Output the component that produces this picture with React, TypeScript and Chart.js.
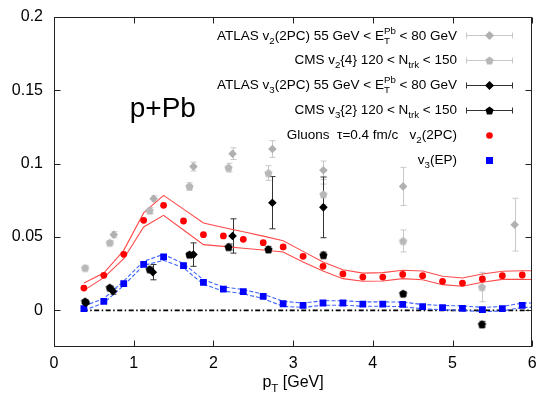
import React, { useEffect, useRef } from 'react';
import { Chart, registerables } from 'chart.js';
Chart.register(...registerables);

// ---------------- data ----------------
const PT = [0.375, 0.625, 0.875, 1.125, 1.375, 1.625, 1.875, 2.125, 2.375, 2.625, 2.875, 3.125,
  3.375, 3.625, 3.875, 4.125, 4.375, 4.625, 4.875, 5.125, 5.375, 5.625, 5.875];
const GLUON_V2 = [0.0152, 0.0239, 0.0382, 0.0614, 0.0716, 0.0609, 0.0516, 0.0507, 0.0484, 0.0461, 0.0432, 0.0368,
  0.030, 0.0248, 0.0227, 0.0227, 0.0245, 0.0236, 0.0198, 0.0186, 0.0214, 0.0236, 0.0241];
const GLUON_V3 = [0.0011, 0.0061, 0.0182, 0.0314, 0.0364, 0.0305, 0.0191, 0.0145, 0.0127, 0.0095, 0.0045, 0.0034,
  0.005, 0.005, 0.0043, 0.0043, 0.004, 0.0025, 0.0018, 0.0014, 0.0005, 0.0011, 0.0034];

const BAND_PT = [0.375, 0.625, 0.875, 1.125, 1.375, 1.625, 1.875, 2.125, 2.375, 2.625, 2.875, 3.125,
  3.375, 3.625, 3.875, 4.125, 4.375, 4.625, 4.875, 5.125, 5.375, 5.625, 5.875, 6.0];
const V2_UPPER = [0.0186, 0.0254, 0.0409, 0.0664, 0.0784, 0.069, 0.0595, 0.0565, 0.0536, 0.0506, 0.0475, 0.0402,
  0.033, 0.0277, 0.0254, 0.0257, 0.0273, 0.0268, 0.0232, 0.022, 0.0248, 0.0266, 0.027, 0.027];
const V2_LOWER = [0.0136, 0.0223, 0.0352, 0.0568, 0.0648, 0.0548, 0.0448, 0.0436, 0.0423, 0.0411, 0.0398, 0.033,
  0.0268, 0.0216, 0.0198, 0.020, 0.0216, 0.0209, 0.0175, 0.0164, 0.0191, 0.0211, 0.0211, 0.021];
const V3_UPPER = [0.003, 0.008, 0.020, 0.0334, 0.0382, 0.0318, 0.0209, 0.0159, 0.0142, 0.011, 0.0061, 0.005,
  0.0065, 0.0065, 0.0058, 0.0058, 0.0056, 0.004, 0.0033, 0.003, 0.002, 0.0026, 0.005, 0.005];
const V3_LOWER = [0.000, 0.005, 0.017, 0.0307, 0.0341, 0.029, 0.0177, 0.0132, 0.0113, 0.008, 0.0027, 0.002,
  0.0035, 0.0035, 0.0028, 0.0028, 0.0025, 0.001, 0.0004, 0.000, -0.001, -0.0004, 0.002, 0.002];

const ATLAS_V2_PT = [0.75, 1.25, 1.75, 2.24, 2.74, 3.38, 4.38, 5.78];
const ATLAS_V2 = [0.0516, 0.0761, 0.098, 0.1068, 0.110, 0.0955, 0.0845, 0.0584];
const ATLAS_V2_ERR = [0.002, 0.002, 0.003, 0.004, 0.0057, 0.0063, 0.013, 0.018];

const CMS_V2_PT = [0.39, 0.70, 1.20, 1.70, 2.19, 2.69, 3.38, 4.38, 5.37];
const CMS_V2 = [0.0289, 0.0461, 0.068, 0.0845, 0.0973, 0.0936, 0.0791, 0.0473, 0.0159];
const CMS_V2_ERR = [0.0015, 0.0015, 0.002, 0.0025, 0.003, 0.005, 0.007, 0.0075, 0.01];

const ATLAS_V3_PT = [0.40, 0.74, 1.24, 1.75, 2.24, 2.74, 3.38];
const ATLAS_V3 = [0.005, 0.013, 0.026, 0.038, 0.0507, 0.0734, 0.0702];
const ATLAS_V3_ERR = [0.001, 0.002, 0.0052, 0.008, 0.0117, 0.0178, 0.0207];

const CMS_V3_PT = [0.39, 0.70, 1.20, 1.70, 2.19, 2.69, 3.38, 4.38, 5.37];
const CMS_V3 = [0.0061, 0.0155, 0.028, 0.038, 0.0432, 0.0416, 0.0377, 0.0114, -0.0095];
const CMS_V3_ERR = [0.001, 0.001, 0.0015, 0.0015, 0.002, 0.002, 0.002, 0.0015, 0.002];

const ZERO_PT = [0.36, 6.0];
const ZERO_V = [0, 0];

const X_TICKS = [0, 1, 2, 3, 4, 5, 6];
const Y_TICKS = [0, 0.05, 0.1, 0.15, 0.2];
const Y_TICK_LABELS = ['0', '0.05', '0.1', '0.15', '0.2'];

const SYSTEM_LABEL = 'p+Pb';
type Seg = { t?: string; s?: 'sub' | 'sup'; st?: [string, string] };
const LEGEND_LABELS: Seg[][] = [
  [{ t: 'ATLAS v' }, { t: '2', s: 'sub' }, { t: '(2PC) 55 GeV < E' }, { st: ['Pb', 'T'] }, { t: ' < 80 GeV' }],
  [{ t: 'CMS v' }, { t: '2', s: 'sub' }, { t: '{4} 120 < N' }, { t: 'trk', s: 'sub' }, { t: ' < 150' }],
  [{ t: 'ATLAS v' }, { t: '3', s: 'sub' }, { t: '(2PC) 55 GeV < E' }, { st: ['Pb', 'T'] }, { t: ' < 80 GeV' }],
  [{ t: 'CMS v' }, { t: '3', s: 'sub' }, { t: '{2} 120 < N' }, { t: 'trk', s: 'sub' }, { t: ' < 150' }],
  [{ t: 'Gluons  \u03c4=0.4 fm/c   v' }, { t: '2', s: 'sub' }, { t: '(2PC)' }],
  [{ t: 'v' }, { t: '3', s: 'sub' }, { t: '(EP)' }],
];
const X_TITLE: Seg[] = [{ t: 'p' }, { t: 'T', s: 'sub' }, { t: ' [GeV]' }];

// ---------------- helpers ----------------
const FONT_FAMILY = '"Liberation Sans", Arial, Helvetica, sans-serif';
const font = (size: number) => `${size}px ${FONT_FAMILY}`;

function segWidth(ctx: CanvasRenderingContext2D, seg: Seg, size: number) {
  const small = size * 0.72;
  if (seg.st) {
    ctx.font = font(small);
    return Math.max(ctx.measureText(seg.st[0]).width, ctx.measureText(seg.st[1]).width);
  }
  ctx.font = font(seg.s ? small : size);
  return ctx.measureText(seg.t || '').width;
}

function drawRich(ctx: CanvasRenderingContext2D, segs: Seg[], x: number, y: number, size: number, align: 'right' | 'center' | 'left') {
  const widths = segs.map((s) => segWidth(ctx, s, size));
  const total = widths.reduce((a, b) => a + b, 0);
  let cx = align === 'right' ? x - total : align === 'center' ? x - total / 2 : x;
  const small = size * 0.72;
  ctx.save();
  ctx.textAlign = 'left';
  ctx.textBaseline = 'alphabetic';
  ctx.fillStyle = '#000';
  segs.forEach((s, i) => {
    if (s.st) {
      ctx.font = font(small);
      ctx.fillText(s.st[0], cx, y - size * 0.42);
      ctx.fillText(s.st[1], cx, y + size * 0.3);
    } else if (s.s === 'sub') {
      ctx.font = font(small);
      ctx.fillText(s.t || '', cx, y + size * 0.3);
    } else if (s.s === 'sup') {
      ctx.font = font(small);
      ctx.fillText(s.t || '', cx, y - size * 0.42);
    } else {
      ctx.font = font(size);
      ctx.fillText(s.t || '', cx, y);
    }
    cx += widths[i];
  });
  ctx.restore();
}

function makePentagon(color: string, r: number) {
  const c = document.createElement('canvas');
  const s = Math.ceil(r * 2 + 2);
  c.width = s;
  c.height = s;
  const g = c.getContext('2d')!;
  g.fillStyle = color;
  g.beginPath();
  for (let i = 0; i < 5; i++) {
    const a = -Math.PI / 2 + (i * 2 * Math.PI) / 5;
    g.lineTo(s / 2 + r * Math.cos(a), s / 2 + r * Math.sin(a) + 0.4);
  }
  g.closePath();
  g.fill();
  return c;
}

const pts = (xs: number[], ys: number[]) => xs.map((x, i) => ({ x, y: ys[i] }));

const GRAY_D = '#b0b0b0';
const GRAY_P = '#b8b8b8';
const GRAY_BAR = '#c8c8c8';

// ---------------- component ----------------
export default function App() {
  const ref = useRef<HTMLCanvasElement>(null);

  useEffect(() => {
    if (!ref.current) return;
    const pentGray = makePentagon(GRAY_P, 4.3);
    const pentBlack = makePentagon('#000', 4.3);

    const errorBars = {
      id: 'errorBars',
      beforeDatasetsDraw(chart: any) {
        const ctx = chart.ctx;
        const ys = chart.scales.y;
        chart.data.datasets.forEach((ds: any, i: number) => {
          if (!ds.errors) return;
          const meta = chart.getDatasetMeta(i);
          ctx.save();
          ctx.strokeStyle = ds.errorColor;
          ctx.lineWidth = 1;
          meta.data.forEach((el: any, j: number) => {
            const v = ds.data[j].y;
            const e = ds.errors[j];
            const x = Math.round(el.x) + 0.5;
            const y1 = ys.getPixelForValue(v + e);
            const y2 = ys.getPixelForValue(v - e);
            ctx.beginPath();
            ctx.moveTo(x, y1);
            ctx.lineTo(x, y2);
            ctx.moveTo(x - 3, y1);
            ctx.lineTo(x + 3, y1);
            ctx.moveTo(x - 3, y2);
            ctx.lineTo(x + 3, y2);
            ctx.stroke();
          });
          ctx.restore();
        });
      },
    };

    const frame = {
      id: 'frame',
      afterDraw(chart: any) {
        const ctx = chart.ctx;
        const { left, right, top, bottom } = chart.chartArea;
        const xs = chart.scales.x;
        const ys = chart.scales.y;
        ctx.save();
        ctx.strokeStyle = '#222';
        ctx.lineWidth = 1;
        const L = Math.round(left) + 0.5, R = Math.round(right) - 0.5;
        const T = Math.round(top) + 0.5, B = Math.round(bottom) - 0.5;
        ctx.strokeRect(L, T, R - L, B - T);
        ctx.beginPath();
        X_TICKS.forEach((v) => {
          const x = Math.round(xs.getPixelForValue(v)) + 0.5;
          ctx.moveTo(x, B); ctx.lineTo(x, B - 6);
          ctx.moveTo(x, T); ctx.lineTo(x, T + 6);
        });
        Y_TICKS.forEach((v) => {
          const y = Math.round(ys.getPixelForValue(v)) + 0.5;
          ctx.moveTo(L, y); ctx.lineTo(L + 6, y);
          ctx.moveTo(R, y); ctx.lineTo(R - 6, y);
        });
        ctx.stroke();
        ctx.restore();

        // system label
        ctx.save();
        ctx.font = font(28);
        ctx.fillStyle = '#000';
        ctx.textAlign = 'left';
        ctx.textBaseline = 'alphabetic';
        ctx.fillText(SYSTEM_LABEL, xs.getPixelForValue(0.95), ys.getPixelForValue(0.1315));
        ctx.restore();

        // axis title
        drawRich(ctx, X_TITLE, (left + right) / 2, 387, 16, 'center');

        // legend
        const textRight = 457;
        const mx = 489.5;
        const rowBase = [39.5, 64, 89, 114, 139, 164];
        const kinds = ['diamondG', 'pentG', 'diamondK', 'pentK', 'circle', 'square'];
        LEGEND_LABELS.forEach((segs, i) => {
          drawRich(ctx, segs, textRight, rowBase[i], 13.5, 'right');
          const cy = Math.round(rowBase[i] - 4.5) + 0.5;
          const k = kinds[i];
          ctx.save();
          if (k !== 'circle' && k !== 'square') {
            const col = k.endsWith('G') ? GRAY_BAR : '#333';
            ctx.strokeStyle = col;
            ctx.lineWidth = 1;
            ctx.beginPath();
            ctx.moveTo(466.5, cy); ctx.lineTo(512.5, cy);
            ctx.moveTo(466.5, cy - 3); ctx.lineTo(466.5, cy + 3);
            ctx.moveTo(512.5, cy - 3); ctx.lineTo(512.5, cy + 3);
            ctx.stroke();
          }
          if (k.startsWith('diamond')) {
            ctx.fillStyle = k.endsWith('G') ? GRAY_D : '#000';
            ctx.beginPath();
            ctx.moveTo(mx, cy - 4.5); ctx.lineTo(mx + 4.5, cy); ctx.lineTo(mx, cy + 4.5); ctx.lineTo(mx - 4.5, cy);
            ctx.closePath(); ctx.fill();
          } else if (k.startsWith('pent')) {
            const img = k.endsWith('G') ? pentGray : pentBlack;
            ctx.drawImage(img, mx - img.width / 2, cy - img.height / 2);
          } else if (k === 'circle') {
            ctx.fillStyle = '#ff0000';
            ctx.beginPath(); ctx.arc(mx, cy, 3.3, 0, Math.PI * 2); ctx.fill();
          } else {
            ctx.fillStyle = '#0000ff';
            ctx.fillRect(mx - 3.5, cy - 3.5, 7, 7);
          }
          ctx.restore();
        });
      },
    };

    const chart = new Chart(ref.current, {
      type: 'scatter',
      data: {
        datasets: [
          {
            data: pts(ZERO_PT, ZERO_V), showLine: true, pointRadius: 0, borderColor: '#000',
            borderWidth: 1.8, borderDash: [5, 2.5, 1.5, 2.5], order: 20,
          } as any,
          { data: pts(BAND_PT, V2_UPPER), showLine: true, pointRadius: 0, borderColor: '#ff4a4a', borderWidth: 1.1, order: 15 },
          { data: pts(BAND_PT, V2_LOWER), showLine: true, pointRadius: 0, borderColor: '#ff4a4a', borderWidth: 1.1, order: 15 },
          { data: pts(BAND_PT, V3_UPPER), showLine: true, pointRadius: 0, borderColor: '#3d63ff', borderWidth: 1.1, borderDash: [4, 2], order: 15 } as any,
          { data: pts(BAND_PT, V3_LOWER), showLine: true, pointRadius: 0, borderColor: '#3d63ff', borderWidth: 1.1, borderDash: [4, 2], order: 15 } as any,
          {
            data: pts(ATLAS_V2_PT, ATLAS_V2), pointStyle: 'rectRot', pointRadius: 4.3, backgroundColor: GRAY_D,
            borderWidth: 0, errors: ATLAS_V2_ERR, errorColor: GRAY_BAR, order: 10,
          } as any,
          {
            data: pts(CMS_V2_PT, CMS_V2), pointStyle: pentGray, pointRadius: 4.3, backgroundColor: GRAY_P,
            borderWidth: 0, errors: CMS_V2_ERR, errorColor: GRAY_BAR, order: 10,
          } as any,
          {
            data: pts(PT, GLUON_V2), pointStyle: 'circle', pointRadius: 3.4,
            backgroundColor: '#ff0000', borderWidth: 0, order: 8,
          },
          {
            data: pts(PT, GLUON_V3), pointStyle: 'rect', pointRadius: 4.8, backgroundColor: '#0000ff', borderWidth: 0, order: 8,
          },
          {
            data: pts(ATLAS_V3_PT, ATLAS_V3), pointStyle: 'rectRot', pointRadius: 4.3, backgroundColor: '#000',
            borderWidth: 0, errors: ATLAS_V3_ERR, errorColor: '#333', order: 5,
          } as any,
          {
            data: pts(CMS_V3_PT, CMS_V3), pointStyle: pentBlack, pointRadius: 4.3, backgroundColor: '#000',
            borderWidth: 0, errors: CMS_V3_ERR, errorColor: '#333', order: 5,
          } as any,
        ],
      },
      options: {
        animation: false,
        responsive: false,
        events: [],
        layout: { padding: { top: 17, right: 4, left: 0, bottom: 0 } },
        plugins: { legend: { display: false }, tooltip: { enabled: false } },
        scales: {
          x: {
            type: 'linear', min: 0, max: 6,
            afterBuildTicks: (s: any) => { s.ticks = X_TICKS.map((v) => ({ value: v })); },
            ticks: { font: { family: FONT_FAMILY, size: 16 }, color: '#000', padding: 7, maxRotation: 0, callback: (v: any) => String(v) },
            grid: { display: false, drawTicks: false },
            border: { display: false },
            afterFit: (s: any) => { s.height = 52; s.paddingLeft = 0; s.paddingRight = 0; },
          },
          y: {
            type: 'linear', min: -0.025, max: 0.2,
            afterBuildTicks: (s: any) => { s.ticks = Y_TICKS.map((v) => ({ value: v })); },
            ticks: { font: { family: FONT_FAMILY, size: 16 }, color: '#000', padding: 11, callback: (_v: any, i: number) => Y_TICK_LABELS[i] },
            grid: { display: false, drawTicks: false },
            border: { display: false },
            afterFit: (s: any) => { s.width = 54; s.paddingTop = 0; s.paddingBottom = 0; },
          },
        },
      },
      plugins: [errorBars, frame],
    } as any);
    return () => chart.destroy();
  }, []);

  return (
    <div style={{ position: 'absolute', left: 0, top: 0, width: 537, height: 399, background: '#fff' }}>
      <canvas ref={ref} width={537} height={399} style={{ width: 537, height: 399, display: 'block' }} />
    </div>
  );
}
